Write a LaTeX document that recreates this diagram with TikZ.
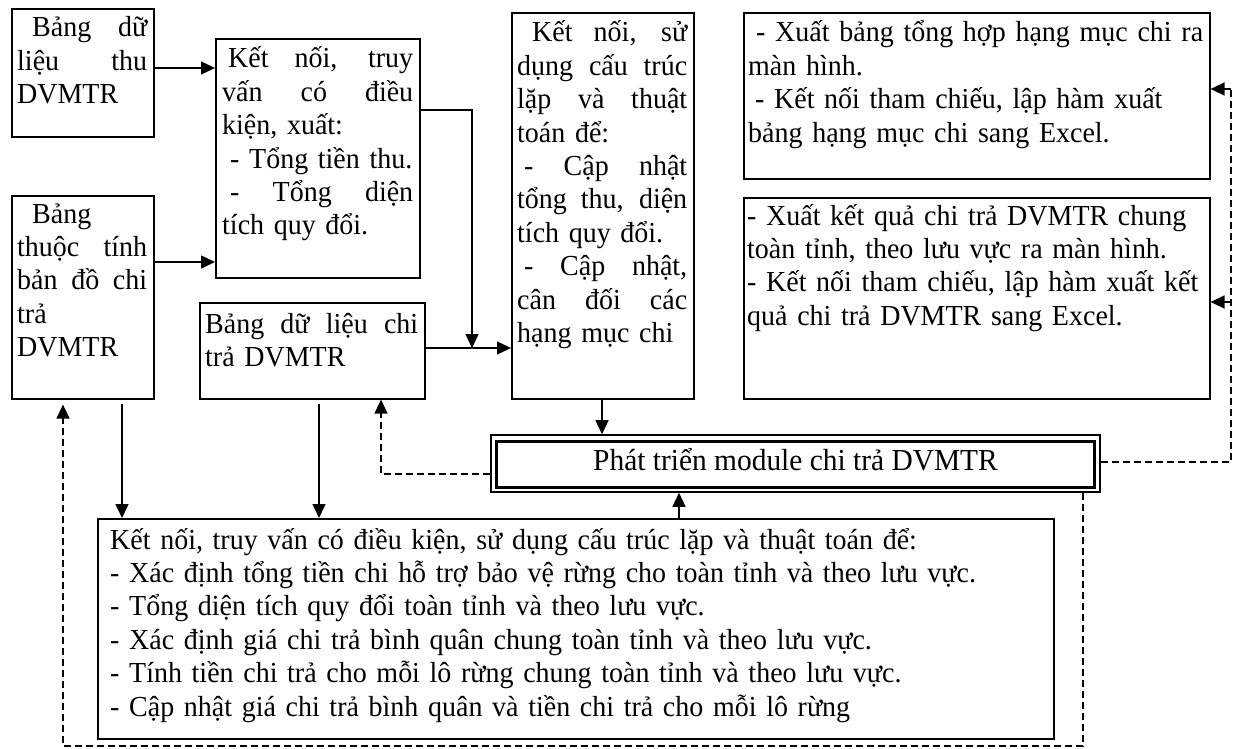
\documentclass[tikz,border=0pt]{standalone}
\usepackage{fontspec}
\setmainfont{Liberation Serif}[FakeStretch=0.965]
\usetikzlibrary{arrows.meta,calc}
\newcommand{\jl}[2]{\makebox[#1pt][s]{\spaceskip=.25em plus 10em\relax #2}}
\begin{document}
\begin{tikzpicture}[x=1pt,y=-1pt,
  box/.style={draw,line width=1.6pt,inner sep=0pt,anchor=north west},
  txt/.style={inner sep=0pt,anchor=base west,align=left,font=\fontsize{29}{33.4}\selectfont},
  arr/.style={line width=1.5pt,-{Triangle[length=14pt,width=13pt]}},
  dsh/.style={line width=1.5pt,dash pattern=on 7pt off 4pt},
  darr/.style={dsh,-{Triangle[length=14pt,width=13pt]}}]
\useasboundingbox (0,0) rectangle (1234,749);

% boxes
\node[box,minimum width=142pt,minimum height=128pt] (A) at (11,8) {};
\node[txt,text width=170pt] (At) at (17,37)
  {\jl{130}{\hspace*{15pt}Bảng dữ}\\ \jl{130}{liệu thu}\\ DVMTR};

\node[box,minimum width=142pt,minimum height=203pt] (B) at (11,195) {};
\node[txt,text width=170pt] (Bt) at (17,223)
  {\hspace*{15pt}Bảng\\ \jl{130}{thuộc tính}\\ \jl{130}{bản đồ chi}\\ trả\\ DVMTR};

\node[box,minimum width=204pt,minimum height=239pt] (C) at (215,38) {};
\node[txt,text width=230pt] (Ct) at (222,68)
  {\jl{191}{\hspace*{6pt}Kết nối, truy}\\ \jl{191}{vấn có điều}\\ kiện, xuất:\\
   \hspace*{8pt}- Tổng tiền thu.\\ \jl{191}{\hspace*{8pt}- Tổng diện}\\ tích quy đổi.};

\node[box,minimum width=225pt,minimum height=96pt] (D) at (199,302) {};
\node[txt,text width=250pt] (Dt) at (205,333)
  {\jl{213}{Bảng dữ liệu chi}\\ trả DVMTR};

\node[box,minimum width=182pt,minimum height=386pt] (E) at (511,12) {};
\node[txt,text width=210pt] (Et) at (517,42)
  {\jl{170}{\hspace*{15pt}Kết nối, sử}\\ \jl{170}{dụng cấu trúc}\\ \jl{170}{lặp và thuật}\\ toán để:\\
   \jl{170}{\hspace*{7pt}- Cập nhật}\\ \jl{170}{tổng thu, diện}\\ tích quy đổi.\\
   \jl{170}{\hspace*{7pt}- Cập nhật,}\\ \jl{170}{cân đối các}\\ hạng mục chi};

\node[box,minimum width=466pt,minimum height=166pt] (G) at (743,12) {};
\node[txt,text width=490pt] (Gt) at (748,42)
  {\jl{455}{\hspace*{8pt}- Xuất bảng tổng hợp hạng mục chi ra}\\ màn hình.\\
   \hspace*{7pt}- Kết nối tham chiếu, lập hàm xuất\\ bảng hạng mục chi sang Excel.};

\node[box,minimum width=466pt,minimum height=201pt] (H) at (743,197) {};
\node[txt,text width=490pt] (Ht) at (747,225)
  {- Xuất kết quả chi trả DVMTR chung\\ toàn tỉnh, theo lưu vực ra màn hình.\\
   - Kết nối tham chiếu, lập hàm xuất kết\\ quả chi trả DVMTR sang Excel.};

\node[box,minimum width=956pt,minimum height=220pt] (I) at (97,518) {};
\node[txt,text width=1000pt] (It) at (110,549)
  {Kết nối, truy vấn có điều kiện, sử dụng cấu trúc lặp và thuật toán để:\\
   - Xác định tổng tiền chi hỗ trợ bảo vệ rừng cho toàn tỉnh và theo lưu vực.\\
   - Tổng diện tích quy đổi toàn tỉnh và theo lưu vực.\\
   - Xác định giá chi trả bình quân chung toàn tỉnh và theo lưu vực.\\
   - Tính tiền chi trả cho mỗi lô rừng chung toàn tỉnh và theo lưu vực.\\
   - Cập nhật giá chi trả bình quân và tiền chi trả cho mỗi lô rừng};

% module box (double border)
\node[draw,line width=1.6pt,inner sep=0pt,minimum width=609pt,minimum height=57pt] (M) at (795.5,463.5) {};
\draw[line width=3pt] ($(M.north west)+(6,7)$) rectangle ($(M.south east)+(-6,-5)$);
\node[inner sep=0pt,anchor=base,font=\fontsize{30.5}{34}\selectfont] (Mt) at (795.5,470) {Phát triển module chi trả DVMTR};

% solid connectors
\coordinate (ab) at (0,68);
\draw[arr] (A.east |- ab) -- (C.west |- ab);
\coordinate (bc) at (0,262);
\draw[arr] (B.east |- bc) -- (C.west |- bc);
\coordinate (ce) at (472,110);
\coordinate (de) at (0,348);
\draw[arr] (C.east |- ce) -- (ce) -- (ce |- de);
\draw[arr] (D.east |- de) -- (E.west |- de);
\coordinate (em) at (602,0);
\draw[arr] (em |- E.south) -- (em |- M.north);
\coordinate (im) at (679,0);
\draw[arr] (im |- I.north) -- (im |- M.south);
\coordinate (bi) at (122,0);
\draw[arr,shorten <=4pt] (bi |- B.south) -- (bi |- I.north);
\coordinate (di) at (319,0);
\draw[arr,shorten <=4pt] (di |- D.south) -- (di |- I.north);

% dashed connectors
\coordinate (dl) at (381,474);
\draw[darr] (M.west |- dl) -- (dl) -- (dl |- D.south);
\coordinate (rt) at (1231,89);
\coordinate (rb) at (1231,462);
\coordinate (rh) at (1231,302);
\draw[dsh] (M.east |- rb) -- (rb) -- (rt);
\draw[darr] (rt) -- (rt -| G.east);
\draw[darr] (rh) -- (rh -| H.east);
\coordinate (lb1) at (1083,746);
\coordinate (lb2) at (63,746);
\draw[darr,shorten >=5pt] (lb1 |- M.south) -- (lb1) -- (lb2) -- (lb2 |- B.south);
\end{tikzpicture}
\end{document}
